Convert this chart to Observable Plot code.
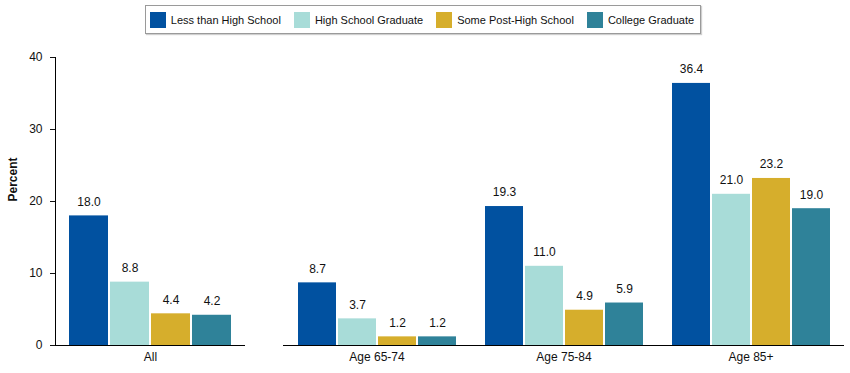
<!DOCTYPE html>
<html>
<head>
<meta charset="utf-8">
<script src="https://cdn.jsdelivr.net/npm/d3@7"></script>
<script src="https://cdn.jsdelivr.net/npm/@observablehq/plot@0.6"></script>
<style>
  body { margin: 0; background: #fff; font-family: "Liberation Sans", Arial, sans-serif; }
  #wrap { position: relative; width: 850px; height: 373px; }
  #legendRow { position: absolute; top: 5px; left: 0; width: 846px; display: flex; justify-content: center; }
  #legend { display: inline-flex; align-items: center; height: 27px; border: 1px solid #9a9a9a; box-shadow: 1px 1px 1px #cfcfcf; padding: 0 6px 0 4px; gap: 13px; font-size: 11px; color: #111; }
  .item { display: flex; align-items: center; }
  .sw { width: 16px; height: 16px; margin-right: 5px; }
  #charts { position: absolute; top: 40px; left: 0; display: flex; }
</style>
</head>
<body>
<div id="wrap">
  <div id="legendRow"><div id="legend"></div></div>
  <div id="charts"></div>
</div>
<script>
const groups = ["All", "Age 65-74", "Age 75-84", "Age 85+"];
const series = ["Less than High School", "High School Graduate", "Some Post-High School", "College Graduate"];
const lessThanHighSchool = [18.0, 8.7, 19.3, 36.4];
const highSchoolGraduate = [8.8, 3.7, 11.0, 21.0];
const somePostHighSchool = [4.4, 1.2, 4.9, 23.2];
const collegeGraduate = [4.2, 1.2, 5.9, 19.0];
const yTicks = [0, 10, 20, 30, 40];
const colors = ["#0151a0", "#a8dcd8", "#d6ae2c", "#2f8299"];

const seriesValues = [lessThanHighSchool, highSchoolGraduate, somePostHighSchool, collegeGraduate];
const data = groups.flatMap((g, i) => series.map((s, j) => ({ group: g, series: s, value: seriesValues[j][i] })));

// legend
const legend = document.getElementById("legend");
series.forEach((s, j) => {
  const it = document.createElement("div");
  it.className = "item";
  const sw = document.createElement("div");
  sw.className = "sw";
  sw.style.background = colors[j];
  const t = document.createElement("span");
  t.textContent = s;
  it.append(sw, t);
  legend.append(it);
});

const font = '"Liberation Sans", Arial, sans-serif';
const common = {
  height: 333,
  marginTop: 17,
  marginBottom: 28,
  y: { domain: [0, 40] },
  x: { domain: series, axis: null, paddingInner: 0.05, paddingOuter: 0.33 },
  color: { domain: series, range: colors },
  style: { fontFamily: font, fontSize: "12px", color: "#111", background: "#fff" }
};

function barMarks(rows) {
  return [
    Plot.barY(rows, { fx: "group", x: "series", y: "value", fill: "series" }),
    Plot.text(rows, { fx: "group", x: "series", y: "value", text: d => d.value.toFixed(1), dy: -14, fontSize: 12, fill: "#111" }),
    Plot.ruleY([0], { stroke: "#000", strokeWidth: 1 })
  ];
}

const allRows = data.filter(d => d.group === groups[0]);
const ageRows = data.filter(d => d.group !== groups[0]);

const p1 = Plot.plot({
  ...common,
  width: 260,
  marginLeft: 55,
  marginRight: 15,
  fx: { domain: [groups[0]], padding: 0 },
  marks: [
    Plot.axisY({ ticks: yTicks, tickSize: 5, tickPadding: 8, label: null, fontSize: 12 }),
    Plot.axisFx({ anchor: "bottom", tickSize: 0, tickPadding: 7, label: null, fontSize: 12 }),
    ...barMarks(allRows),
    Plot.frame({ anchor: "left", stroke: "#000" }),
    Plot.text(["Percent"], { frameAnchor: "left", dx: -42, rotate: -90, fontWeight: "bold", fontSize: 12, fill: "#111" })
  ]
});

const p2 = Plot.plot({
  ...common,
  width: 590,
  marginLeft: 22,
  marginRight: 5,
  y: { domain: [0, 40], axis: null },
  fx: { domain: groups.slice(1), padding: 0 },
  marks: [
    Plot.axisFx({ anchor: "bottom", tickSize: 0, tickPadding: 7, label: null, fontSize: 12 }),
    ...barMarks(ageRows)
  ]
});

document.getElementById("charts").append(p1, p2);
</script>
</body>
</html>
